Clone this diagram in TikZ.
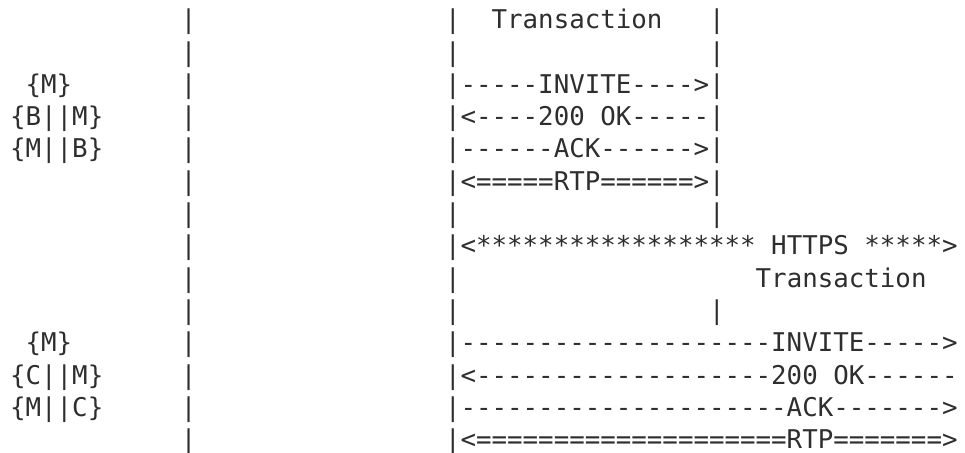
\documentclass[tikz,border=0pt]{standalone}
\usepackage{fontspec}
\setmonofont{DejaVu Sans Mono}
\definecolor{ink}{HTML}{2E2E2E}
\tikzset{
  txt/.style={font=\ttfamily\fontsize{25.8pt}{32.3pt}\selectfont,
    anchor=base west, inner sep=0pt, outer sep=0pt, text=ink}
}
\begin{document}
\begin{tikzpicture}
\useasboundingbox (0pt,0pt) rectangle (965pt,-452pt);
% one unit = one character cell (x) / one text line (y)
\begin{scope}[shift={(10.1pt,-28.7pt)}, x=15.533pt, y=-32.3pt]
  % left lifeline
  \foreach \r in {0,...,13} \node[txt] (left\r) at (11,\r) {|};
  % middle lifeline, where no message starts
  \foreach \r in {0,1,6,8,9} \node[txt] (mid\r) at (28,\r) {|};
  % right lifeline of the first transaction
  \foreach \r in {0,1,6,9} \node[txt] (right\r) at (45,\r) {|};

  % transaction headings
  \node[txt] (trans1) at (31,0) {Transaction};
  \node[txt] (trans2) at (48,8) {Transaction};

  % key labels
  \node[txt] (keyA) at (1,2)  {\{M\}};
  \node[txt] (keyB) at (0,3)  {\{B||M\}};
  \node[txt] (keyC) at (0,4)  {\{M||B\}};
  \node[txt] (keyD) at (1,10) {\{M\}};
  \node[txt] (keyE) at (0,11) {\{C||M\}};
  \node[txt] (keyF) at (0,12) {\{M||C\}};

  % first transaction
  \node[txt] (inv1) at (28,2) {|-----INVITE---->|};
  \node[txt] (ok1)  at (28,3) {|<----200 OK-----|};
  \node[txt] (ack1) at (28,4) {|------ACK------>|};
  \node[txt] (rtp1) at (28,5) {|<=====RTP======>|};

  % HTTPS exchange
  \node[txt] (httpsL) at (28,7) {|<******************};
  \node[txt] (https)  at (49,7) {HTTPS};
  \node[txt] (httpsR) at (55,7) {*****>};

  % second transaction
  \node[txt] (inv2) at (28,10) {|--------------------INVITE----->};
  \node[txt] (ok2)  at (28,11) {|<-------------------200 OK------};
  \node[txt] (ack2) at (28,12) {|---------------------ACK------->};
  \node[txt] (rtp2) at (28,13) {|<====================RTP=======>};
\end{scope}
\end{tikzpicture}
\end{document}
